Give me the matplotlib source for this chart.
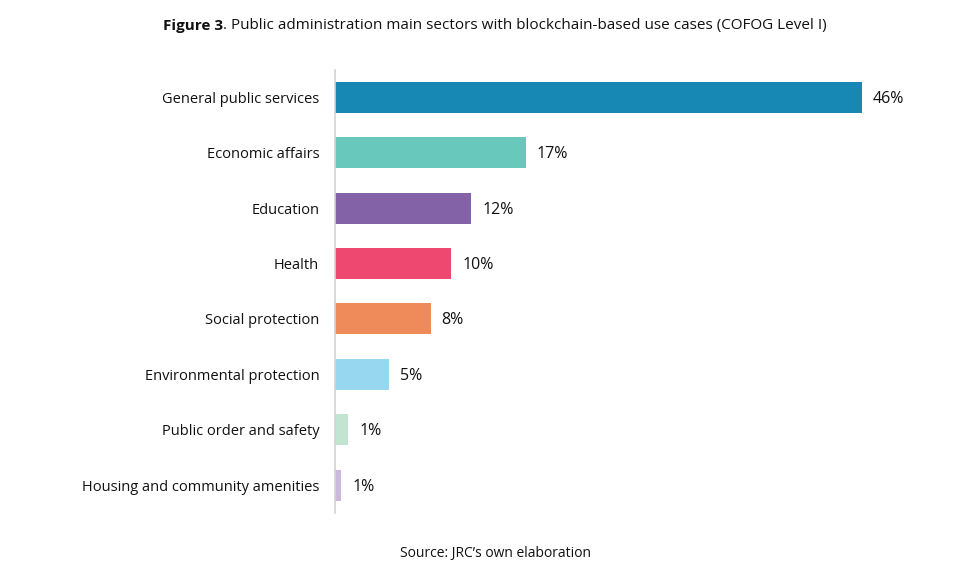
import matplotlib
matplotlib.use("Agg")
import matplotlib.pyplot as plt

plt.rcParams['font.family'] = ['Open Sans', 'DejaVu Sans']

# data
sectors = [
    "General public services",
    "Economic affairs",
    "Education",
    "Health",
    "Social protection",
    "Environmental protection",
    "Public order and safety",
    "Housing and community amenities",
]
shares = [46.0, 16.7, 11.95, 10.2, 8.4, 4.8, 1.2, 0.6]
share_labels = ["46%", "17%", "12%", "10%", "8%", "5%", "1%", "1%"]
colors = ["#1788B4", "#68C8BC", "#8462A8", "#EE4770",
          "#EF8A5B", "#97D8F0", "#C1E5D1", "#CBB9DC"]

W, H = 958, 579
fig = plt.figure(figsize=(W / 100, H / 100), dpi=100)

# axes placed so the bars line up with the reference
x0 = 334.5
px_per_unit = (862 - 335) / 46
xmax = 50
ax = fig.add_axes([x0 / W, 1 - 512.7 / H, xmax * px_per_unit / W, (512.7 - 69.8) / H])

ypos = list(range(len(sectors)))
ax.barh(ypos, shares, height=0.56, color=colors, zorder=2)
ax.set_xlim(0, xmax)
ax.set_ylim(len(sectors) - 0.5, -0.5)

for y, v, lab in zip(ypos, shares, share_labels):
    ax.annotate(lab, (v, y), xytext=(11, -1.5), textcoords="offset pixels",
                ha="left", va="center", fontsize=11.5, color="#111111")

ax.set_yticks(ypos)
ax.set_yticklabels(sectors, fontsize=10.5, color="#111111")
ax.tick_params(axis="y", length=0, pad=11)
ax.set_xticks([])
for s in ["top", "right", "bottom"]:
    ax.spines[s].set_visible(False)
ax.spines["left"].set_color("#D3D3D3")
ax.spines["left"].set_linewidth(1.2)

# title: bold "Figure 3" followed by the normal text
t1 = fig.text(163 / W, 1 - 26 / H, "Figure 3", fontsize=11, fontweight="bold",
              ha="left", va="center", color="#111111")
ax.annotate(". Public administration main sectors with blockchain-based use cases (COFOG Level I)",
            xy=(1, 0), xycoords=t1, ha="left", va="bottom", fontsize=11, color="#111111",
            annotation_clip=False)

fig.text(495 / W, 1 - 553 / H, "Source: JRC\u2019s own elaboration", fontsize=10,
         ha="center", va="center", color="#111111")

fig.savefig("out.png", dpi=100, facecolor="white")
